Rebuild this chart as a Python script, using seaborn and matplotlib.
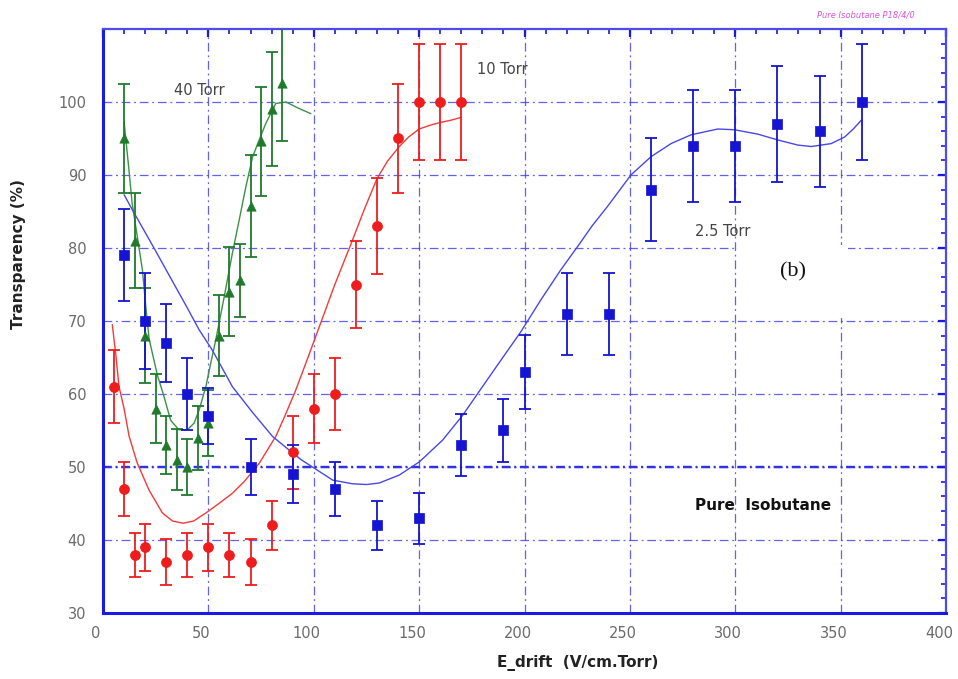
import matplotlib
matplotlib.use("Agg")
import matplotlib.pyplot as plt
import matplotlib.transforms as mtransforms
import seaborn as sns
import pandas as pd
from matplotlib.ticker import MultipleLocator
from matplotlib.patches import Rectangle

# ---- measurements: 40 Torr (triangles) ----
x40 = [10, 15, 20, 25, 30, 35, 40, 45, 50, 55, 60, 65, 70, 75, 80, 85]
y40 = [95, 81, 68, 58, 53, 51, 50, 54, 56, 68, 74, 75.6, 85.7, 94.6, 99, 102.6]
e40 = [7.5, 6.5, 6.5, 4.7, 4.0, 4.2, 3.9, 4.4, 4.5, 5.5, 6.1, 5.0, 7.0, 7.5, 7.8, 8.0]

# ---- measurements: 10 Torr (circles) ----
x10 = [5, 10, 15, 20, 30, 40, 50, 60, 70, 80, 90, 100, 110, 120, 130, 140, 150, 160, 170]
y10 = [61, 47, 38, 39, 37, 38, 39, 38, 37, 42, 52, 58, 60, 75, 83, 95, 100, 100, 100]
e10 = [5.0, 3.7, 3.0, 3.2, 3.1, 3.0, 3.2, 3.0, 3.1, 3.4, 5.0, 4.7, 4.9, 6.0, 6.6, 7.5, 8.0, 8.0, 8.0]

# ---- measurements: 2.5 Torr (squares) ----
x25 = [10, 20, 30, 40, 50, 70, 90, 110, 130, 150, 170, 190, 200,
       220, 240, 260, 280, 300, 320, 340, 360]
y25 = [79, 70, 67, 60, 57, 50, 49, 47, 42, 43, 53, 55, 63,
       71, 71, 88, 94, 94, 97, 96, 100]
e25 = [6.3, 6.6, 5.3, 4.9, 3.8, 3.9, 4.0, 3.7, 3.4, 3.5, 4.2, 4.3, 5.1,
       5.6, 5.6, 7.0, 7.7, 7.7, 7.9, 7.6, 8.0]

# ---- fitted curves ----
fit40_x = [10, 12, 13.8, 16.3, 18.7, 20.3, 21.9, 25.8, 29, 32.1, 36, 40, 43.2, 45.6,
           48.8, 51.1, 53.5, 57.5, 61.4, 64.6, 67.8, 71, 74.1, 77.3, 82, 86.8, 93.1, 98.6]
fit40_y = [97.3, 91.6, 86.2, 81.5, 77, 72, 67.5, 62.6, 59.6, 56.4, 55.1, 55.1, 56, 57.8,
           61, 64.2, 67.4, 73.3, 79.3, 83.8, 88.4, 92.5, 94.8, 97.1, 99.8, 100, 99.1, 98.4]

fit10_x = [4.4, 6, 7.6, 10, 12.4, 16.3, 21.9, 28.2, 33, 38, 43, 48.8, 55, 61.4, 67,
           74.1, 82, 86, 91, 97, 103, 110, 118, 124, 130, 135, 140.6, 145, 150,
           155, 160, 165, 170]
fit10_y = [69.5, 65.6, 61, 58, 54.2, 50.5, 46.8, 43.7, 42.6, 42.3, 42.6, 43.7, 45, 46.4, 48,
           50.5, 54.2, 56.8, 60.2, 64.8, 69.5, 75, 80.8, 85.3, 89.5, 91.9, 93.9, 95.2, 96.3,
           96.8, 97.2, 97.5, 97.9]

fit25_x = [10, 14, 23.8, 31.7, 39.6, 45.6, 51.9, 61.4, 70.9, 80.4, 88.4, 94, 99.4, 109,
           118.4, 125, 131, 140.6, 150.1, 161.2, 170.7, 178.6, 188, 198.2, 208, 217.2,
           225.2, 232, 239.4, 250.5, 260, 269.5, 279, 291.7, 299.6, 310.7, 320.2, 329.7,
           336, 345.5, 351.9, 356, 359.8]
fit25_y = [87.3, 85.2, 80.2, 76.1, 72, 68.8, 66, 61, 57.5, 54.2, 52.3, 51, 50, 48.2,
           47.7, 47.6, 47.8, 48.9, 50.7, 53.7, 57.1, 60.4, 64.3, 68.5, 73, 77,
           80.2, 83, 85.7, 90, 92.5, 94.3, 95.5, 96.3, 96.2, 95.6, 94.8, 94.1,
           93.9, 94.3, 95.2, 96.3, 97.5]

x_ticks = [0, 50, 100, 150, 200, 250, 300, 350, 400]
y_ticks = [30, 40, 50, 60, 70, 80, 90, 100]

RED, RED_L = "#ee1c1c", "#f23a3a"
GREEN, GREEN_L = "#1f7a2c", "#3a9247"
BLUE, BLUE_L = "#1414d2", "#4848e6"
AXBLUE = "#1a1ae6"
DASHDOT = (7, 3, 1.5, 3)

sns.set_theme(style="white")
plt.rcParams["font.family"] = ["DejaVu Sans"]

fig = plt.figure(figsize=(9.58, 6.79), dpi=100)
ax = fig.add_axes([103 / 958, 1 - 613 / 679, 843 / 958, 584 / 679])

ax.set_xlim(0, 400)
ax.set_ylim(30, 110)

# dash-dot grid
ax.set_xticks(x_ticks)
ax.set_yticks(y_ticks)
ax.xaxis.set_minor_locator(MultipleLocator(10))
ax.yaxis.set_minor_locator(MultipleLocator(2))
ax.grid(True, which="major", color="#3b3bea", linestyle=(0, DASHDOT),
        linewidth=0.9, alpha=0.8, zorder=0)
scale = 0.9 / 1.7
ax.axhline(50, color="#2a2ae0", linewidth=1.7, zorder=0.5,
           linestyle=(0, tuple(d * scale for d in DASHDOT)))

# label box
ax.add_patch(Rectangle((301.2, 70.4), 52.2, 10.0, facecolor="white",
                       edgecolor="none", zorder=1))

# fitted curves
def curve(xs, ys, color):
    df = pd.DataFrame({"x": xs, "y": ys})
    sns.lineplot(data=df, x="x", y="y", ax=ax, color=color, linewidth=1.0,
                 sort=False, estimator=None, zorder=2)

curve(fit40_x, fit40_y, GREEN_L)
curve(fit10_x, fit10_y, RED_L)
curve(fit25_x, fit25_y, BLUE_L)

# measured points with error bars
def points(xs, ys, es, color, marker, size):
    ax.errorbar(xs, ys, yerr=es, fmt="none", ecolor=color, elinewidth=1.3,
                capsize=4.2, capthick=1.3, zorder=3, clip_on=True)
    df = pd.DataFrame({"x": xs, "y": ys})
    sns.scatterplot(data=df, x="x", y="y", ax=ax, color=color, marker=marker,
                    s=size, edgecolor=color, linewidth=0.5, zorder=4)

points(x40, y40, e40, GREEN, "^", 45)
points(x10, y10, e10, RED, "o", 52)
points(x25, y25, e25, BLUE, "s", 42)

# axes styling
for side in ["left", "bottom"]:
    ax.spines[side].set_color(AXBLUE)
    ax.spines[side].set_linewidth(2.2)
for side in ["top", "right"]:
    ax.spines[side].set_color("#4b4bee")
    ax.spines[side].set_linewidth(1.6)
ax.tick_params(which="both", direction="in", top=True, right=True,
               color=AXBLUE, labelcolor="#6a6a6a", labelsize=10.5)
ax.tick_params(which="major", length=6, width=1.6)
ax.tick_params(axis="y", which="major", pad=12)
ax.tick_params(axis="x", which="major", pad=9)
ax.tick_params(which="minor", length=3.5, width=1.2)
ax.set_yticklabels([str(v) for v in y_ticks])
ax.set_xticklabels([str(v) for v in x_ticks])
shift = mtransforms.ScaledTranslation(-7 / 100, 0, fig.dpi_scale_trans)
for lbl in ax.get_xticklabels():
    lbl.set_transform(lbl.get_transform() + shift)

ax.set_xlabel("E_drift  (V/cm.Torr)", fontsize=11, fontweight="bold", color="#222222")
ax.set_ylabel("Transparency (%)", fontsize=11, fontweight="bold", color="#222222")
ax.xaxis.set_label_coords(0.563, -0.072)
ax.yaxis.set_label_coords(-0.091, 0.615)

# annotations
ax.text(45.6, 101.6, "40 Torr", fontsize=10.5, color="#444444", ha="center", va="center", zorder=5)
ax.text(189.5, 104.4, "10 Torr", fontsize=10.5, color="#444444", ha="center", va="center", zorder=5)
ax.text(294, 82.2, "2.5 Torr", fontsize=10.5, color="#444444", ha="center", va="center", zorder=5)
ax.text(313, 44.7, "Pure  Isobutane", fontsize=11, fontweight="bold", color="#111111",
        ha="center", va="center", zorder=5)
ax.text(327.3, 76.7, "(b)", fontsize=16, family="Liberation Serif", color="#111111",
        ha="center", va="center", zorder=5)
fig.text(915 / 958, 1 - 15 / 679, "Pure Isobutane P18/4/0", fontsize=6, style="italic",
         color="#dd55dd", ha="right", va="center")

fig.savefig("out.png", dpi=100, facecolor="white")
